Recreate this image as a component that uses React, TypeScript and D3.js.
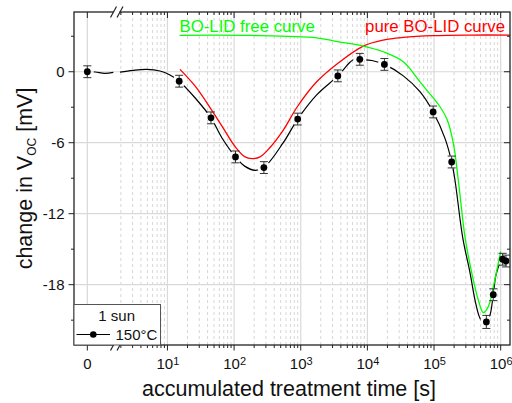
import React from "react";
import * as d3 from "d3";

// ---- data ----
const pointTimes = [0, 15, 45, 105, 280, 900, 3600, 7700, 18000, 97000, 184000, 610000, 774000, 1.07e6, 1.2e6];
const pointValues = [0, -0.8, -3.9, -7.2, -8.1, -4.0, -0.35, 1.05, 0.62, -3.4, -7.63, -21.15, -18.85, -15.85, -16.0];
const pointErrors = [0.5, 0.5, 0.5, 0.5, 0.5, 0.5, 0.5, 0.5, 0.5, 0.5, 0.5, 0.55, 0.5, 0.5, 0.5];

// fit curve: part left of the axis break (break-axis units) and log part (seconds)
const fitBreakPos = [0, 0.6, 1.3, 1.95];
const fitBreakValues = [0, -0.02, -0.14, -0.06];
const fitTimes = [1.94, 3.04, 4.89, 7.73, 10.9, 15, 25.9, 45, 65.8, 105, 146, 206, 280, 547, 900, 1735, 3600, 5480, 6520, 7700, 11700, 18000, 34600, 61500, 97000, 146000, 184000, 206000, 269000, 347000, 412000, 478000, 548000, 610000, 692000, 774000, 865000, 1.07e6, 1.2e6];
const fitValues = [-0.03, 0.12, 0.2, 0.06, -0.28, -0.8, -2.2, -3.9, -5.6, -7.2, -8.0, -8.33, -8.1, -6.0, -4.0, -1.95, -0.35, 0.8, 1.1, 1.05, 0.95, 0.62, -0.35, -1.69, -3.4, -5.63, -7.63, -9.15, -14, -17, -19.3, -20.7, -21.27, -21.15, -20.56, -18.85, -17.0, -15.85, -16.0];

const redTimes = [15.4, 25.9, 46.1, 65.8, 104, 146, 186, 245, 346, 547, 888, 1735, 3580, 8670, 17300, 34600, 97500, 347000, 1.38e6];
const redValues = [0.2, -1.2, -3.24, -4.6, -6.34, -7.2, -7.35, -7.2, -6.4, -4.93, -2.96, -0.85, 0.7, 2.17, 2.68, 2.9, 3.05, 3.1, 3.1];

const greenTimes = [15.2, 173, 1735, 3580, 8670, 17300, 34600, 61500, 77700, 123000, 156000, 195000, 231000, 292000, 368000, 462000, 548000, 652000, 774000, 889000, 1e6];
const greenValues = [3.08, 3.07, 2.87, 2.54, 2.17, 1.69, 0.85, -0.85, -1.55, -2.96, -4.0, -6.06, -9.15, -14.0, -17.0, -19.3, -20.36, -19.86, -18.2, -16.6, -15.2];

const yMajorTicks = [0, -6, -12, -18];
const yMinorTicks = [3, -3, -9, -15, -21];
const xDecades = [1, 2, 3, 4, 5, 6];

const W = 512, H = 403;
const L = 74, R = 510, T = 12, B = 345;
const FONT = "'Liberation Sans', Arial, sans-serif";

const xBreak = d3.scaleLinear().domain([-1, 2]).range([L, 114]);
const xLog = d3.scaleLog().domain([1.75, 1.38e6]).range([117, R]);
const y = d3.scaleLinear().domain([-23.1, 5.05]).range([B, T]);
const xPos = (t: number) => (t === 0 ? xBreak(0) : xLog(t));

const minorTimes: number[] = [];
for (let n = 0; n <= 5; n++) for (let k = 2; k <= 9; k++) {
  const t = k * Math.pow(10, n);
  if (t >= 1.75 && t <= 1.38e6) minorTimes.push(t);
}

const curveGen = d3.line<[number, number]>().x(d => d[0]).y(d => d[1]).curve(d3.curveCatmullRom.alpha(0.5));

export default function App() {
  const breakPath = curveGen(fitBreakPos.map((p, i) => [xBreak(p), y(fitBreakValues[i])]))!;
  const fitPath = curveGen(fitTimes.map((t, i) => [xLog(t), y(fitValues[i])]))!;
  const redPath = curveGen(redTimes.map((t, i) => [xLog(t), y(redValues[i])]))!;
  const greenPath = curveGen(greenTimes.map((t, i) => [xLog(t), y(greenValues[i])]))!;
  const axisColor = "#222";
  return (
    <svg width={W} height={H} style={{ position: "absolute", left: 0, top: 0, background: "#fff" }} fontFamily={FONT}>
      <defs>
        <clipPath id="plotClip"><rect x={L} y={T} width={R - L} height={B - T} /></clipPath>
        <mask id="gapMask" maskUnits="userSpaceOnUse" x={0} y={0} width={W} height={H}>
          <rect x={0} y={0} width={W} height={H} fill="#fff" />
          {pointTimes.map((t, i) => (
            <circle key={i} cx={xPos(t)} cy={y(pointValues[i])} r={6.5} fill="#000" />
          ))}
        </mask>
      </defs>
      <rect x={0} y={0} width={W} height={H} fill="#fff" />
      {/* grid */}
      <g>
        {minorTimes.map((t, i) => (
          <line key={"mg" + i} x1={xLog(t)} x2={xLog(t)} y1={T} y2={B} stroke="#d6d6d6" strokeWidth={1} strokeDasharray="3,3" />
        ))}
        {xDecades.map(d => (
          <line key={"Mg" + d} x1={xLog(Math.pow(10, d))} x2={xLog(Math.pow(10, d))} y1={T} y2={B} stroke="#d9d9d9" strokeWidth={1.2} />
        ))}
        <line x1={xBreak(0)} x2={xBreak(0)} y1={T} y2={B} stroke="#d9d9d9" strokeWidth={1.2} />
        {yMajorTicks.map(v => (
          <line key={"yg" + v} x1={L} x2={R} y1={y(v)} y2={y(v)} stroke="#d9d9d9" strokeWidth={1.2} />
        ))}
      </g>
      {/* curves */}
      <g clipPath="url(#plotClip)" fill="none">
        <g mask="url(#gapMask)">
          <path d={breakPath} stroke="#000" strokeWidth={1.2} />
          <path d={fitPath} stroke="#000" strokeWidth={1.2} />
        </g>
        <path d={redPath} stroke="#ff0000" strokeWidth={1.3} />
        <path d={greenPath} stroke="#00ff00" strokeWidth={1.3} />
      </g>
      {/* error bars and points */}
      <g>
        {pointTimes.map((t, i) => {
          const cx = xPos(t);
          const y1 = y(pointValues[i] + pointErrors[i]);
          const y2 = y(pointValues[i] - pointErrors[i]);
          return (
            <g key={"p" + i} stroke="#333" strokeWidth={1}>
              <line x1={cx} x2={cx} y1={y1} y2={y2} />
              <line x1={cx - 4} x2={cx + 4} y1={y1} y2={y1} />
              <line x1={cx - 4} x2={cx + 4} y1={y2} y2={y2} />
              <circle cx={cx} cy={y(pointValues[i])} r={3.4} fill="#000" stroke="none" />
            </g>
          );
        })}
      </g>
      {/* frame */}
      <g stroke={axisColor} strokeWidth={1.3} fill="none">
        <rect x={L} y={T} width={R - L} height={B - T} />
      </g>
      {/* ticks */}
      <g stroke={axisColor} strokeWidth={1}>
        {yMajorTicks.map(v => (
          <g key={"yt" + v}>
            <line x1={L - 5.5} x2={L} y1={y(v)} y2={y(v)} />
            <line x1={R - 6} x2={R} y1={y(v)} y2={y(v)} />
          </g>
        ))}
        {yMinorTicks.map(v => (
          <g key={"ymt" + v}>
            <line x1={L - 3} x2={L} y1={y(v)} y2={y(v)} />
            <line x1={R - 3} x2={R} y1={y(v)} y2={y(v)} />
          </g>
        ))}
        {xDecades.map(d => {
          const x = xLog(Math.pow(10, d));
          return (
            <g key={"xt" + d}>
              <line x1={x} x2={x} y1={B} y2={B + 5.5} />
              <line x1={x} x2={x} y1={T} y2={T + 6} />
            </g>
          );
        })}
        {minorTimes.map((t, i) => {
          const x = xLog(t);
          return (
            <g key={"xmt" + i}>
              <line x1={x} x2={x} y1={B} y2={B + 3} />
              <line x1={x} x2={x} y1={T} y2={T + 3} />
            </g>
          );
        })}
        <line x1={xBreak(0)} x2={xBreak(0)} y1={B} y2={B + 5.5} />
        <line x1={xBreak(0)} x2={xBreak(0)} y1={T} y2={T + 6} />
      </g>
      {/* axis breaks */}
      {[T, B].map(yy => (
        <g key={"br" + yy}>
          <rect x={113.5} y={yy - 2} width={6} height={4} fill="#fff" />
          <line x1={110.5} y1={yy + 5.5} x2={116.5} y2={yy - 5.5} stroke={axisColor} strokeWidth={1.2} />
          <line x1={117} y1={yy + 5.5} x2={123} y2={yy - 5.5} stroke={axisColor} strokeWidth={1.2} />
        </g>
      ))}
      {/* tick labels */}
      <g fontSize={15} fill="#111">
        {yMajorTicks.map(v => (
          <text key={"yl" + v} x={64.5} y={y(v) + 5.3} textAnchor="end">{v === 0 ? "0" : "-" + Math.abs(v)}</text>
        ))}
        <text x={xBreak(0)} y={368.5} textAnchor="middle">0</text>
        {xDecades.map(d => (
          <text key={"xl" + d} x={xLog(Math.pow(10, d)) + 0.5} y={368.5} textAnchor="middle">
            10<tspan fontSize={11} dy={-4}>{d}</tspan>
          </text>
        ))}
      </g>
      {/* axis titles */}
      <text x={289} y={396} textAnchor="middle" fontSize={21.5} fill="#111">accumulated treatment time [s]</text>
      <text transform="translate(31.5,178.5) rotate(-90)" textAnchor="middle" fontSize={21.5} fill="#111">
        change in V<tspan fontSize={12} dy={4.5}>OC</tspan><tspan dy={-4.5}> [mV]</tspan>
      </text>
      {/* curve labels */}
      <text x={179.5} y={31.5} fontSize={16.8} fill="#00ff00">BO-LID free curve</text>
      <text x={505} y={31.5} fontSize={16.8} fill="#ff0000" textAnchor="end">pure BO-LID curve</text>
      {/* legend */}
      <g>
        <rect x={L} y={304.5} width={86.5} height={B - 304.5} fill="#fff" stroke="#555" strokeWidth={1} />
        <text x={116.7} y={320.5} fontSize={15} textAnchor="middle" fill="#111">1 sun</text>
        <line x1={76.5} x2={110} y1={334.5} y2={334.5} stroke="#000" strokeWidth={1.2} />
        <circle cx={93.3} cy={334.5} r={3.3} fill="#000" />
        <text x={115.5} y={339.5} fontSize={15} fill="#111">150°C</text>
      </g>
    </svg>
  );
}
